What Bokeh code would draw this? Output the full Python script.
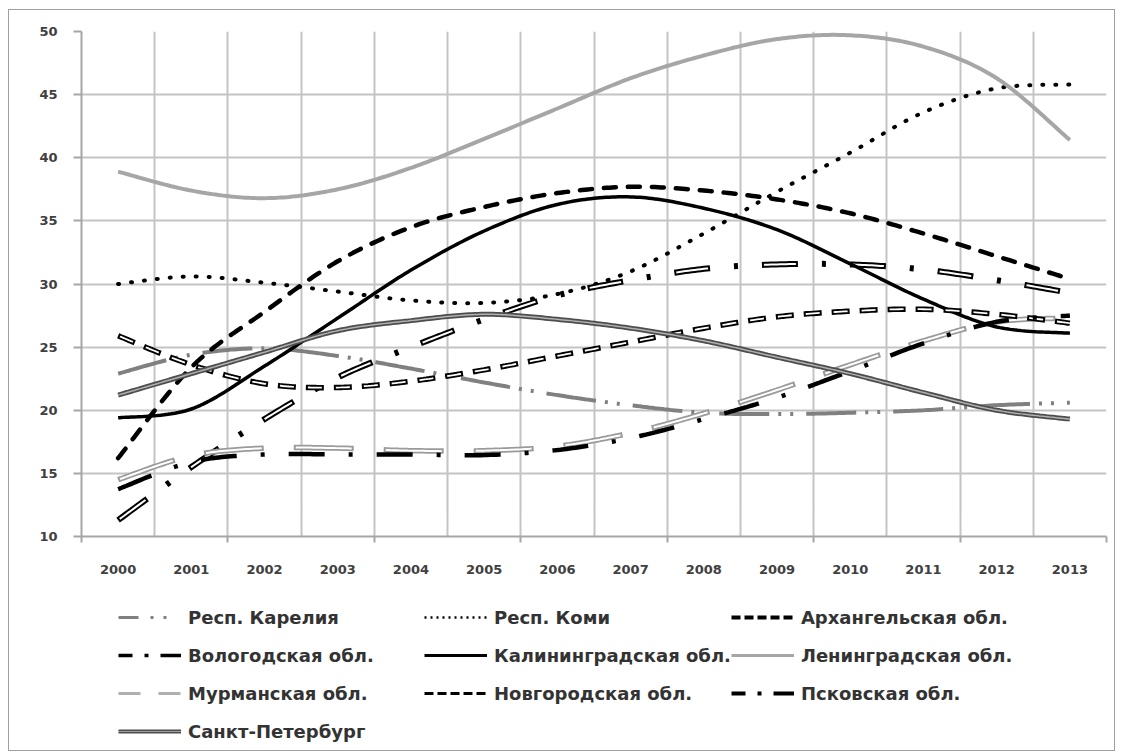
import numpy as np
from bokeh.plotting import figure
from bokeh.layouts import column
from bokeh.models import Legend, LegendItem, FixedTicker, Range1d
from bokeh.embed import file_html
from bokeh.resources import INLINE

years = ["2000", "2001", "2002", "2003", "2004", "2005", "2006",
         "2007", "2008", "2009", "2010", "2011", "2012", "2013"]

karelia     = [22.9, 24.4, 24.9, 24.3, 23.3, 22.2, 21.2, 20.4, 19.8, 19.7, 19.8, 20.0, 20.4, 20.6]
komi        = [30.0, 30.6, 30.1, 29.4, 28.7, 28.5, 29.2, 31.0, 34.0, 37.3, 40.4, 43.6, 45.5, 45.8]
arkhangelsk = [16.2, 23.4, 27.8, 31.8, 34.5, 36.1, 37.2, 37.7, 37.4, 36.7, 35.6, 34.0, 32.2, 30.4]
vologda     = [11.3, 15.5, 19.3, 22.6, 25.0, 27.2, 29.1, 30.3, 31.2, 31.55, 31.55, 31.15, 30.3, 29.3]
kaliningrad = [19.4, 20.1, 23.5, 27.3, 31.1, 34.2, 36.3, 36.9, 36.0, 34.3, 31.6, 28.8, 26.6, 26.1]
leningrad   = [38.9, 37.4, 36.8, 37.5, 39.2, 41.5, 43.9, 46.3, 48.1, 49.4, 49.7, 48.8, 46.3, 41.4]
murmansk    = [14.5, 16.4, 17.0, 17.0, 16.8, 16.8, 17.15, 18.2, 19.75, 21.6, 23.6, 25.5, 27.0, 27.3]
novgorod    = [25.9, 23.6, 22.1, 21.8, 22.3, 23.2, 24.3, 25.4, 26.5, 27.4, 27.85, 28.0, 27.6, 26.9]
pskov       = [13.75, 15.9, 16.5, 16.5, 16.5, 16.45, 16.85, 17.8, 19.3, 21.0, 23.1, 25.3, 27.0, 27.5]
spb         = [21.2, 22.9, 24.6, 26.3, 27.1, 27.6, 27.2, 26.5, 25.5, 24.2, 22.9, 21.4, 20.0, 19.3]

labels = ["Респ. Карелия", "Респ. Коми", "Архангельская обл.",
          "Вологодская обл.", "Калининградская обл.", "Ленинградская обл.",
          "Мурманская обл.", "Новгородская обл.", "Псковская обл.",
          "Санкт-Петербург"]

y_ticks = [10, 15, 20, 25, 30, 35, 40, 45, 50]


def smooth(vals, n=24):
    """Excel-like smoothed line (Catmull-Rom Bezier) through the points."""
    x = np.arange(len(vals), dtype=float)
    y = np.asarray(vals, dtype=float)
    N = len(x)
    P = np.column_stack([x, y])
    out = []
    for i in range(N - 1):
        p0 = P[max(i - 1, 0)]
        p1 = P[i]
        p2 = P[i + 1]
        p3 = P[min(i + 2, N - 1)]
        c1 = p1 + (p2 - p0) / 6.0
        c2 = p2 - (p3 - p1) / 6.0
        t = np.linspace(0, 1, n, endpoint=(i == N - 2))[:, None]
        b = ((1 - t) ** 3) * p1 + 3 * ((1 - t) ** 2) * t * c1 + 3 * (1 - t) * t ** 2 * c2 + t ** 3 * p2
        out.append(b)
    B = np.vstack(out)
    return B[:, 0], B[:, 1]


W = 1105
p = figure(width=W, height=570,
           x_range=Range1d(-0.5, 13.5), y_range=Range1d(10, 50),
           output_backend="svg", toolbar_location=None,
           min_border_left=72, min_border_right=8,
           min_border_top=21, min_border_bottom=44)
p.outline_line_color = None
p.background_fill_color = "white"
p.border_fill_color = "white"

# grids
p.xgrid.ticker = FixedTicker(ticks=[i - 0.5 for i in range(15)])
p.ygrid.ticker = FixedTicker(ticks=y_ticks)
for g in (p.xgrid, p.ygrid):
    g.grid_line_color = "#c4c4c4"
    g.grid_line_width = 2

# axes
p.xaxis.ticker = FixedTicker(ticks=list(range(14)),
                             minor_ticks=[-0.5 + 2 * k for k in range(8)])
p.xaxis.major_label_overrides = {i: years[i] for i in range(14)}
p.xaxis.major_tick_out = 0
p.xaxis.major_tick_in = 0
p.xaxis.minor_tick_out = 6
p.xaxis.minor_tick_in = 0
p.xaxis.minor_tick_line_color = "#a6a6a6"
p.xaxis.minor_tick_line_width = 2
p.xaxis.major_label_standoff = 22

p.yaxis.ticker = FixedTicker(ticks=y_ticks)
p.yaxis.major_tick_out = 8
p.yaxis.major_tick_in = 0
p.yaxis.minor_tick_out = 0
p.yaxis.minor_tick_in = 0
p.yaxis.major_tick_line_color = "#a6a6a6"
p.yaxis.major_tick_line_width = 2
p.yaxis.major_label_standoff = 16

for ax in (p.xaxis, p.yaxis):
    ax.axis_line_color = "#a6a6a6"
    ax.axis_line_width = 2
    ax.major_label_text_font = "DejaVu Sans"
    ax.major_label_text_font_style = "bold"
    ax.major_label_text_font_size = "13px"
    ax.major_label_text_color = "#404040"

# series styles in the plot (layers per series)
styles = [
    [dict(line_color="#808080", line_width=4, line_dash="50 9 3 9 3 13")],
    [dict(line_color="black", line_width=4, line_dash="1 12", line_cap="round")],
    [dict(line_color="black", line_width=4.5, line_dash="12 12", line_cap="round")],
    [dict(line_color="black", line_width=6, line_dash="36 24 4 24"),
     dict(line_color="white", line_width=2, line_dash="0 2 32 54")],
    [dict(line_color="black", line_width=3.5)],
    [dict(line_color="#a6a6a6", line_width=4)],
    [dict(line_color="#9a9a9a", line_width=5.5, line_dash="60 30"),
     dict(line_color="white", line_width=2, line_dash="0 2 56 32")],
    [dict(line_color="black", line_width=5.5, line_dash="18 10"),
     dict(line_color="white", line_width=1.8, line_dash="0 2 14 12")],
    [dict(line_color="black", line_width=4.5, line_dash="36 24 4 24")],
    [dict(line_color="#4d4d4d", line_width=5),
     dict(line_color="#b0b0b0", line_width=1.5)],
]
# legend sample styles (as drawn in the reference legend)
legend_styles = [
    [dict(line_color="#808080", line_width=3, line_dash="20 12 3 10 3 20")],
    [dict(line_color="black", line_width=2.5, line_dash="2 4")],
    [dict(line_color="black", line_width=4, line_dash="9 4")],
    [dict(line_color="black", line_width=3.5, line_dash="14 12 4 12 21")],
    [dict(line_color="black", line_width=3)],
    [dict(line_color="#a6a6a6", line_width=3)],
    [dict(line_color="#b0b0b0", line_width=3, line_dash="22 18")],
    [dict(line_color="black", line_width=3, line_dash="9 4")],
    [dict(line_color="black", line_width=4, line_dash="14 12 4 12 21")],
    [dict(line_color="#4d4d4d", line_width=4),
     dict(line_color="#a0a0a0", line_width=1)],
]
series = [karelia, komi, arkhangelsk, vologda, kaliningrad, leningrad,
          murmansk, novgorod, pskov, spb]

for vals, layers in zip(series, styles):
    xs, ys = smooth(vals)
    for st in layers:
        p.line(xs, ys, **st)

# legend figure
L = figure(width=W, height=170, x_range=Range1d(0, 1), y_range=Range1d(0, 1),
           output_backend="svg", toolbar_location=None,
           x_axis_type=None, y_axis_type=None,
           min_border_left=0, min_border_right=0, min_border_top=0, min_border_bottom=0)
L.outline_line_color = None
L.xgrid.visible = False
L.ygrid.visible = False

items = []
for lab, layers in zip(labels, legend_styles):
    rs = [L.line([-2, -1], [-2, -1], **st) for st in layers]
    items.append(LegendItem(label=lab, renderers=rs))

legend = Legend(items=items, orientation="horizontal", ncols=3,
                location=(37, 0), padding=0, margin=0, spacing=0,
                glyph_width=63, glyph_height=38, label_height=38,
                label_width=236, label_standoff=7,
                background_fill_alpha=0, border_line_alpha=0,
                label_text_font="DejaVu Sans", label_text_font_style="bold",
                label_text_font_size="18px", label_text_color="#333333")
L.add_layout(legend)

lay = column(p, L, spacing=0)
lay.styles = {"margin-left": "8px", "margin-top": "9px",
              "border": "1px solid #a0a0a0", "background": "white"}

open("out.html", "w").write(file_html(lay, INLINE))
